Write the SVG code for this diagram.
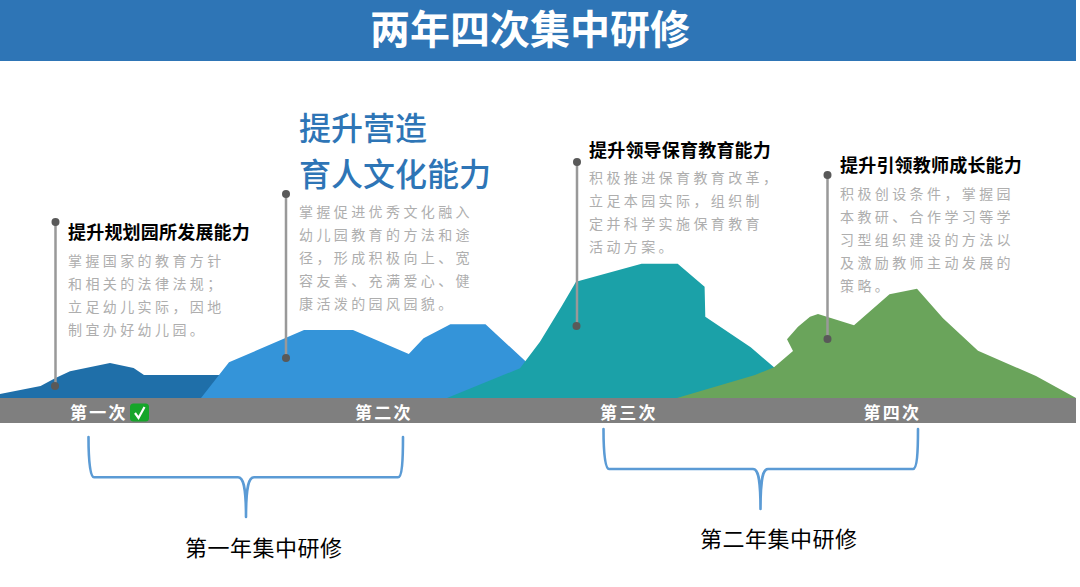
<svg xmlns="http://www.w3.org/2000/svg" width="1080" height="587" viewBox="0 0 1080 587">
<style>
text{font-family:"Noto Sans CJK SC","Noto Sans",sans-serif}
.title{font-size:40px;font-weight:700;fill:#fff}
.h{font-size:18px;font-weight:700;fill:#000;letter-spacing:.2px}
.big{font-size:32px;font-weight:500;fill:#2e75b6}
.b{font-size:14px;fill:#aeaeae;letter-spacing:3.4px}
.t{font-size:17px;font-weight:700;fill:#fff;letter-spacing:2.3px}
.y{font-size:22px;fill:#000;letter-spacing:.5px}
.stem{stroke:#999;stroke-width:2.5;fill:none}
.dot{fill:#595959}
.brace{stroke:#5b9bd5;stroke-width:2.6;fill:none;stroke-linecap:round;stroke-linejoin:round}
</style>
<rect width="1080" height="587" fill="#fff"/>
<g id="header"><rect x="0" y="0" width="1076" height="61" fill="#2e75b6"/>
<text class="title" x="530" y="44" text-anchor="middle">两年四次集中研修</text></g>
<g id="mountains">
<polygon fill="#1f6fa9" points="0,394 40.6,386 55,378.3 70,371.3 110,363 133.6,368 144,375 222,375 222,398 0,398"/>
<polygon fill="#3494d9" points="201,398 229,362.3 304,330 353,330 408.8,354 423.6,338.3 450.4,324.3 485.5,324.3 525,360.7 560,398"/>
<polygon fill="#1ba1a8" points="447,398 520,368.3 540,341.7 562.4,305 576,281.7 641.6,263.7 677.7,263.7 704.6,286.7 705.3,316.7 750.7,347.3 774,367.3 815,398"/>
<polygon fill="#6aa45b" points="677,398 755,375 774,367.3 793,351 787,339.3 798,326.7 810,316.7 818,314 854,325.3 889.5,294.3 917,288.7 943,318.3 978,350.7 1036,376 1076,398"/>
</g>
<g id="band"><rect x="0" y="398" width="1076" height="25" fill="#7f7f7f"/></g>
<g id="connectors">
<path class="stem" d="M55.5 222V386M286 194V358M577 162V326M827.5 175V339"/>
<path class="brace" d="M88.5 437C88.5 460 90 477.3 94 477.3H238C243 477.3 246 485 246 517C246 485 249 477.3 254 477.3H398C402 477.3 403 460 403 437"/>
<path class="brace" d="M603.5 429C603.5 452 605 469 609 469H753C758 469 760.5 477 760.5 509C760.5 477 763 469 768 469H913C917 469 918 452 918 429"/>
</g>
<g id="node1">
<circle class="dot" cx="55.5" cy="222" r="4"/><circle class="dot" cx="55" cy="386" r="4"/>
<text class="h" x="68" y="239">提升规划园所发展能力</text>
<text class="b" x="68" y="266">掌握国家的教育方针</text>
<text class="b" x="68" y="289">和相关的法律法规；</text>
<text class="b" x="68" y="312">立足幼儿实际，因地</text>
<text class="b" x="68" y="335">制宜办好幼儿园。</text>
</g>
<g id="node2">
<circle class="dot" cx="286" cy="194" r="4"/><circle class="dot" cx="286" cy="358" r="4"/>
<text class="big" x="299" y="140">提升营造</text>
<text class="big" x="299" y="186">育人文化能力</text>
<text class="b" x="299" y="217">掌握促进优秀文化融入</text>
<text class="b" x="299" y="240">幼儿园教育的方法和途</text>
<text class="b" x="299" y="263">径，形成积极向上、宽</text>
<text class="b" x="299" y="286">容友善、充满爱心、健</text>
<text class="b" x="299" y="309">康活泼的园风园貌。</text>
</g>
<g id="node3">
<circle class="dot" cx="577" cy="162" r="4"/><circle class="dot" cx="576.5" cy="326" r="4"/>
<text class="h" x="589" y="157">提升领导保育教育能力</text>
<text class="b" x="589" y="183">积极推进保育教育改革，</text>
<text class="b" x="589" y="206">立足本园实际，组织制</text>
<text class="b" x="589" y="229">定并科学实施保育教育</text>
<text class="b" x="589" y="252">活动方案。</text>
</g>
<g id="node4">
<circle class="dot" cx="827.5" cy="175" r="4"/><circle class="dot" cx="827.5" cy="339" r="4"/>
<text class="h" x="840" y="172">提升引领教师成长能力</text>
<text class="b" x="840" y="199">积极创设条件，掌握园</text>
<text class="b" x="840" y="222">本教研、合作学习等学</text>
<text class="b" x="840" y="245">习型组织建设的方法以</text>
<text class="b" x="840" y="268">及激励教师主动发展的</text>
<text class="b" x="840" y="291">策略。</text>
</g>
<g id="times">
<text class="t" x="70" y="419">第一次</text>
<rect x="130" y="403.5" width="19" height="18" rx="3.5" fill="#16a52a"/>
<path d="M135 413l3.5 5 6-11" fill="none" stroke="#fff" stroke-width="2.2"/>
<text class="t" x="355" y="419">第二次</text>
<text class="t" x="600" y="419">第三次</text>
<text class="t" x="863.5" y="419">第四次</text>
</g>
<g id="year1"><text class="y" x="185" y="556">第一年集中研修</text></g>
<g id="year2"><text class="y" x="700" y="547">第二年集中研修</text></g>
</svg>
